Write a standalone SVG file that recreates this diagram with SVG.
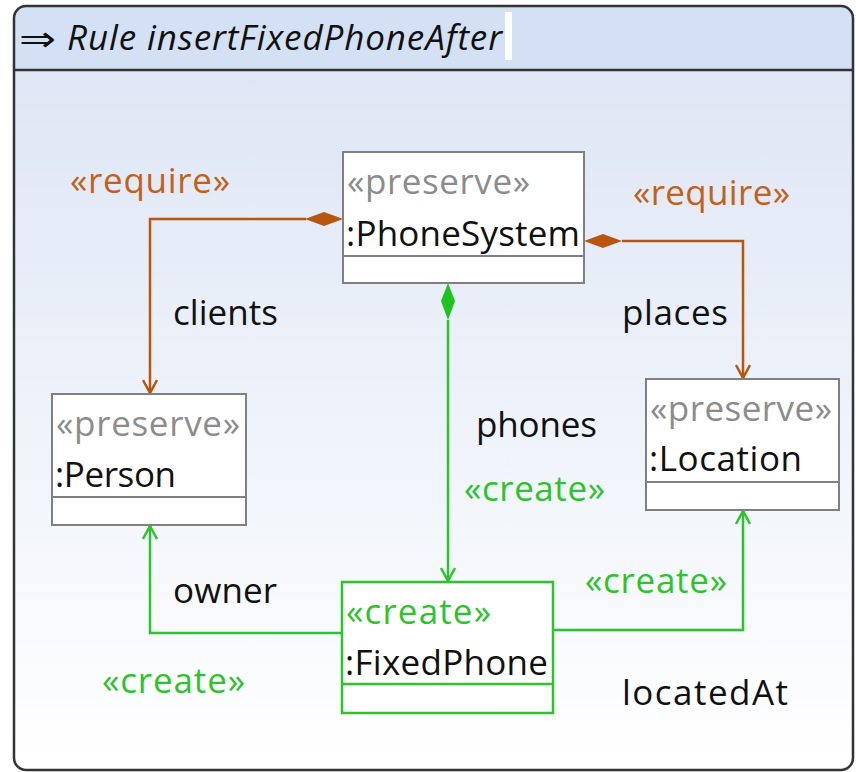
<svg xmlns="http://www.w3.org/2000/svg" width="856" height="772" viewBox="0 0 856 772">
  <defs>
    <linearGradient id="bodyFill" x1="0" y1="0" x2="0" y2="1">
      <stop offset="0" stop-color="#dbe4f4"/>
      <stop offset="1" stop-color="#ffffff"/>
    </linearGradient>
    <marker id="openArrowBrown" viewBox="0 0 16 16" refX="14" refY="8" markerWidth="16" markerHeight="16" markerUnits="userSpaceOnUse" orient="auto">
      <path d="M1,1 L14,8 L1,15" fill="none" stroke="#b8560f" stroke-width="2.5"/>
    </marker>
    <marker id="openArrowGreen" viewBox="0 0 16 16" refX="14" refY="8" markerWidth="16" markerHeight="16" markerUnits="userSpaceOnUse" orient="auto">
      <path d="M1,1 L14,8 L1,15" fill="none" stroke="#2fc22f" stroke-width="2.5"/>
    </marker>
  </defs>
  <style>
    text { font-family: "Open Sans", "Noto Sans", "DejaVu Sans", sans-serif; font-size: 35px; }
    .box { fill: #ffffff; stroke: #808080; stroke-width: 2; }
    .boxNew { fill: #ffffff; stroke: #2fc22f; stroke-width: 2.5; }
    .div { stroke: #808080; stroke-width: 2; }
    .divNew { stroke: #2fc22f; stroke-width: 2.5; }
    .stereo { fill: #8c8c8c; }
    .stereoNew { fill: #2fc22f; }
    .name { fill: #111111; }
    .role { fill: #111111; }
    .req { fill: #c0621c; }
    .cre { fill: #2fc22f; }
    .brown { fill: none; stroke: #b8560f; stroke-width: 2.5; }
    .green { fill: none; stroke: #2fc22f; stroke-width: 2.5; }
  </style>

  <!-- rule frame -->
  <g id="frame">
    <rect x="14" y="6" width="839" height="764" rx="12" fill="url(#bodyFill)"/>
    <path d="M14,70 L14,18 Q14,6 26,6 L841,6 Q853,6 853,18 L853,70 Z" fill="#d4e0f4"/>
    <rect x="14" y="6" width="839" height="764" rx="12" fill="none" stroke="#333333" stroke-width="2.5"/>
    <line x1="14" y1="70" x2="853" y2="70" stroke="#333333" stroke-width="2.5"/>
    <text x="19" y="51" font-family="DejaVu Sans, sans-serif" font-size="40" textLength="37" lengthAdjust="spacingAndGlyphs" fill="#111111">⇒</text>
    <text x="67" y="50" font-size="32" font-style="italic" fill="#111111" textLength="435">Rule insertFixedPhoneAfter</text>
    <rect x="505" y="12" width="7" height="48" fill="#ffffff"/>
  </g>

  <!-- connectors -->
  <g id="connectors">
    <!-- clients -->
    <polyline class="brown" points="306,219 150,219 150,393" marker-end="url(#openArrowBrown)"/>
    <path d="M343,219 L324,212 L305,219 L324,226 Z" fill="#b8560f"/>
    <!-- places -->
    <polyline class="brown" points="622,241 743,241 743,378" marker-end="url(#openArrowBrown)"/>
    <path d="M584,241 L603,234 L622,241 L603,248 Z" fill="#b8560f"/>
    <!-- phones -->
    <line class="green" x1="448" y1="320" x2="448" y2="581" marker-end="url(#openArrowGreen)"/>
    <path d="M448,283 L441,301 L448,320 L455,301 Z" fill="#1fc21f"/>
    <!-- owner -->
    <polyline class="green" points="342,633 150,633 150,526" marker-end="url(#openArrowGreen)"/>
    <!-- locatedAt -->
    <polyline class="green" points="553,630 743,630 743,511" marker-end="url(#openArrowGreen)"/>

    <text class="req" x="70" y="193" textLength="160">«require»</text>
    <text class="role" x="173" y="325" textLength="105">clients</text>
    <text class="req" x="633" y="205" textLength="157">«require»</text>
    <text class="role" x="622" y="325" textLength="106">places</text>
    <text class="role" x="476" y="437" textLength="121">phones</text>
    <text class="cre" x="464" y="501" textLength="141">«create»</text>
    <text class="role" x="173" y="603" textLength="104">owner</text>
    <text class="cre" x="102" y="693" textLength="143">«create»</text>
    <text class="cre" x="585" y="593" textLength="142">«create»</text>
    <text class="role" x="622" y="705" textLength="166">locatedAt</text>
  </g>

  <!-- nodes -->
  <g id="phoneSystem">
    <rect class="box" x="343" y="152" width="241" height="131"/>
    <line class="div" x1="343" y1="256" x2="584" y2="256"/>
    <text class="stereo" x="347" y="194" textLength="183">«preserve»</text>
    <text class="name" x="346" y="246" textLength="234">:PhoneSystem</text>
  </g>

  <g id="person">
    <rect class="box" x="52" y="394" width="194" height="131"/>
    <line class="div" x1="52" y1="497" x2="246" y2="497"/>
    <text class="stereo" x="56" y="436" textLength="184">«preserve»</text>
    <text class="name" x="55" y="487" textLength="121">:Person</text>
  </g>

  <g id="location">
    <rect class="box" x="646" y="379" width="193" height="131"/>
    <line class="div" x1="646" y1="482" x2="839" y2="482"/>
    <text class="stereo" x="650" y="421" textLength="182">«preserve»</text>
    <text class="name" x="649" y="471" textLength="153">:Location</text>
  </g>

  <g id="fixedPhone">
    <rect class="boxNew" x="342" y="582" width="211" height="131"/>
    <line class="divNew" x1="342" y1="684" x2="553" y2="684"/>
    <text class="stereoNew" x="346" y="624" textLength="145">«create»</text>
    <text class="name" x="345" y="675" textLength="203">:FixedPhone</text>
  </g>
</svg>
